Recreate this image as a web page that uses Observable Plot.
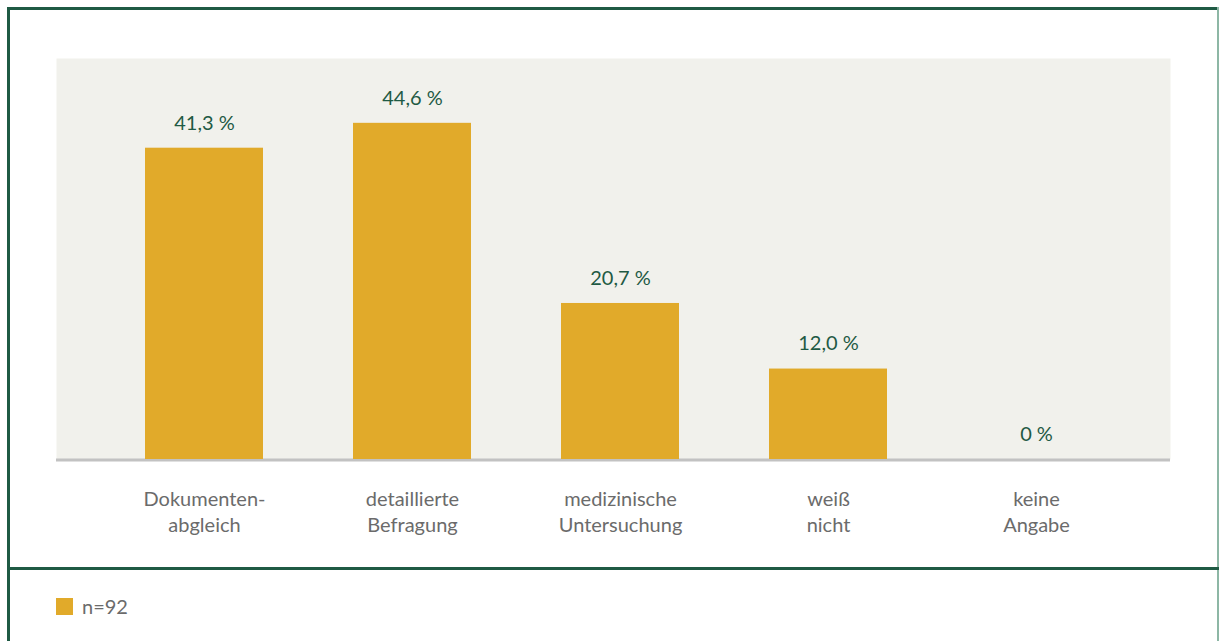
<!DOCTYPE html>
<html>
<head>
<meta charset="utf-8">
<script src="https://cdn.jsdelivr.net/npm/d3@7"></script>
<script src="https://cdn.jsdelivr.net/npm/@observablehq/plot@0.6"></script>
<style>
  html, body { margin: 0; padding: 0; background: #ffffff; }
  #wrap { position: relative; width: 1219px; height: 641px; overflow: hidden; font-family: Lato, "Open Sans", sans-serif; }
  #chart { position: absolute; left: 0; top: 0; }
  .line { position: absolute; }
  #legend { position: absolute; left: 56px; top: 594px; display: flex; align-items: center; color: #6b6b6b; font-size: 20px; }
  #legend .sw { width: 17px; height: 17px; background: #e1aa2a; margin-right: 9px; }
</style>
</head>
<body>
<div id="wrap">
  <div id="chart"></div>
  <div class="line" style="left:7px;top:7px;width:1212px;height:3px;background:#1f5a44;"></div>
  <div class="line" style="left:7px;top:7px;width:3px;height:634px;background:#1f5a44;"></div>
  <div class="line" style="left:1217px;top:7px;width:2px;height:634px;background:#8db7a5;"></div>
  <div class="line" style="left:7px;top:567px;width:1212px;height:3px;background:#1f5a44;"></div>
  <div id="legend"><div class="sw"></div><span id="legendText"></span></div>
</div>
<script>
const categories = ["Dokumenten-\nabgleich", "detaillierte\nBefragung", "medizinische\nUntersuchung", "weiß\nnicht", "keine\nAngabe"];
const values = [41.3, 44.6, 20.7, 12.0, 0];
const seriesName = "n=92";

const data = categories.map((c, i) => ({category: c, value: values[i]}));
const fmt = v => v === 0 ? "0 %" : v.toFixed(1).replace(".", ",") + " %";

const chart = Plot.plot({
  width: 1219,
  height: 560,
  marginTop: 58,
  marginBottom: 101,
  marginLeft: 56,
  marginRight: 49,
  style: {fontFamily: "Lato, 'Open Sans', sans-serif", background: "transparent"},
  x: {type: "band", domain: categories, range: [145, 1095], paddingInner: 0.4327, paddingOuter: 0, label: null},
  y: {domain: [0, 53.2], axis: null},
  marks: [
    Plot.frame({fill: "#f1f1ec", stroke: null}),
    Plot.ruleY([0], {stroke: "#c2c2c2", strokeWidth: 3, dy: 0.5}),
    Plot.barY(data, {x: "category", y: "value", fill: "#e1aa2a"}),
    Plot.text(data, {x: "category", y: "value", text: d => fmt(d.value), dy: -25, lineAnchor: "middle", fill: "#1f5a44", fontSize: 20}),
    Plot.axisX({tickSize: 0, tickPadding: 28, fontSize: 20, lineHeight: 1.3, color: "#6b6b6b", label: null})
  ]
});
document.getElementById("chart").appendChild(chart);
document.getElementById("legendText").textContent = seriesName;
</script>
</body>
</html>
